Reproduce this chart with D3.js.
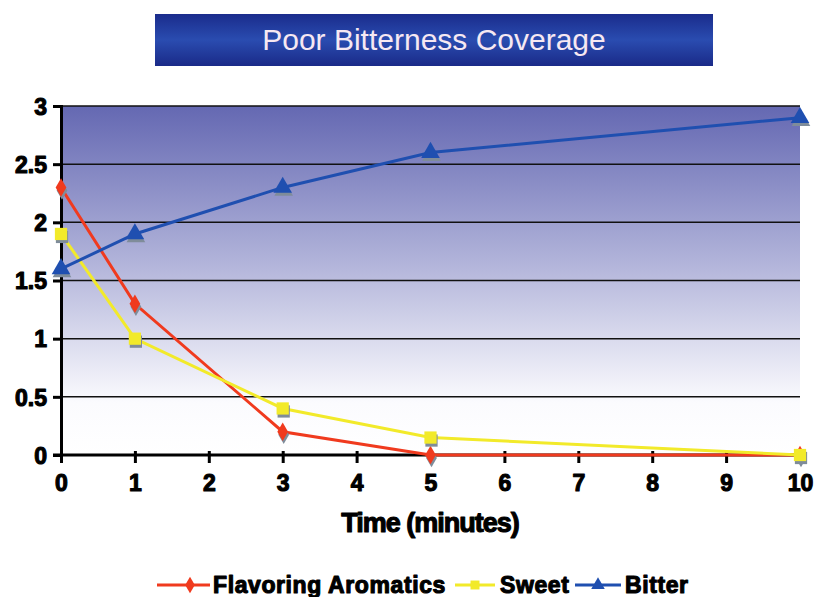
<!DOCTYPE html>
<html>
<head>
<meta charset="utf-8">
<script src="https://cdn.jsdelivr.net/npm/d3@7"></script>
<style>
body { margin: 0; background: #fff; }
svg text { font-family: "Liberation Sans", Arial, sans-serif; }
</style>
</head>
<body>
<svg id="chart" width="814" height="597"></svg>
<script>
const times = [0, 1, 3, 5, 10];
const flavoring = [2.3, 1.3, 0.2, 0, 0];
const sweet = [1.9, 1.0, 0.4, 0.15, 0];
const bitter = [1.6, 1.9, 2.3, 2.6, 2.9];
const xTicks = [0, 1, 2, 3, 4, 5, 6, 7, 8, 9, 10];
const yTicks = [0, 0.5, 1, 1.5, 2, 2.5, 3];

const series = [
	{name: 'Flavoring Aromatics', values: flavoring, color: '#f03a1e', symbol: d3.symbolDiamond, size: 100},
	{name: 'Sweet', values: sweet, color: '#f2ea2a', symbol: d3.symbolSquare, size: 150},
	{name: 'Bitter', values: bitter, color: '#1f4fb0', symbol: d3.symbolTriangle, size: 150}
];

const svg = d3.select('#chart');
const plotLeft = 61, plotRight = 800, plotTop = 106, plotBottom = 455;

const x = d3.scaleLinear().domain([0, 10]).range([plotLeft, plotRight]);
const y = d3.scaleLinear().domain([0, 3]).range([plotBottom, plotTop]);

const defs = svg.append('defs');
const bg = defs.append('linearGradient').attr('id', 'bg')
	.attr('x1', 0).attr('y1', 0).attr('x2', 0).attr('y2', 1);
bg.append('stop').attr('offset', '0%').attr('stop-color', '#6468b2');
bg.append('stop').attr('offset', '45%').attr('stop-color', '#b2b4da');
bg.append('stop').attr('offset', '85%').attr('stop-color', '#fbfbfe');
bg.append('stop').attr('offset', '100%').attr('stop-color', '#ffffff');

const tg = defs.append('linearGradient').attr('id', 'tg')
	.attr('x1', 0).attr('y1', 0).attr('x2', 0).attr('y2', 1);
tg.append('stop').attr('offset', '0%').attr('stop-color', '#1a2c8c');
tg.append('stop').attr('offset', '50%').attr('stop-color', '#2a4cb0');
tg.append('stop').attr('offset', '100%').attr('stop-color', '#1a2a88');

// heavy black text, close to the Arial Black look of the original
function heavy(sel, size) {
	return sel.attr('fill', '#000')
		.attr('stroke', '#000')
		.attr('stroke-width', 1.1)
		.attr('stroke-linejoin', 'round')
		.style('font-size', size + 'px')
		.style('font-weight', 'bold');
}

// title box
svg.append('rect')
	.attr('x', 155).attr('y', 14).attr('width', 558).attr('height', 52)
	.attr('fill', 'url(#tg)');
svg.append('text')
	.attr('x', 434).attr('y', 50)
	.attr('text-anchor', 'middle')
	.attr('fill', '#f6e8f2')
	.style('font-size', '30px')
	.text('Poor Bitterness Coverage');

// plot background
svg.append('rect')
	.attr('x', plotLeft).attr('y', plotTop)
	.attr('width', plotRight - plotLeft).attr('height', plotBottom - plotTop)
	.attr('fill', 'url(#bg)');

// gridlines
svg.append('g').selectAll('line')
	.data(yTicks.filter(d => d > 0))
	.enter().append('line')
	.attr('x1', plotLeft).attr('x2', plotRight)
	.attr('y1', d => y(d)).attr('y2', d => y(d))
	.attr('stroke', '#111').attr('stroke-width', 1.5);

// axes
const yAxis = svg.append('g')
	.attr('transform', 'translate(' + plotLeft + ',0)')
	.call(d3.axisLeft(y).tickValues(yTicks).tickSize(8).tickPadding(6).tickFormat(d3.format('')));
const xAxis = svg.append('g')
	.attr('transform', 'translate(0,' + plotBottom + ')')
	.call(d3.axisBottom(x).tickValues(xTicks).tickSize(8).tickPadding(12).tickFormat(d3.format('d')));

[yAxis, xAxis].forEach(ax => {
	ax.select('.domain').attr('stroke', '#000').attr('stroke-width', 3);
	ax.selectAll('.tick line').attr('stroke', '#000').attr('stroke-width', 3);
	ax.selectAll('.tick text').call(heavy, 23);
});
yAxis.selectAll('.tick text').attr('dy', '0.36em');
xAxis.select('.domain').attr('d', 'M' + (plotLeft - 8) + ',0H' + plotRight);
xAxis.selectAll('.tick line').attr('y1', -4);

// lines
const line = d3.line()
	.x((d, i) => x(times[i]))
	.y(d => y(d));

const lines = svg.append('g');
series.forEach(s => {
	lines.append('path')
		.datum(s.values)
		.attr('fill', 'none')
		.attr('stroke', s.color)
		.attr('stroke-width', 3)
		.attr('d', line);
});

// markers with a gray shadow
series.forEach(s => {
	const g = svg.append('g');
	const sym = d3.symbol().type(s.symbol).size(s.size);
	g.selectAll('.shadow')
		.data(s.values)
		.enter().append('path')
		.attr('class', 'shadow')
		.attr('transform', (d, i) => 'translate(' + (x(times[i]) + 1) + ',' + (y(d) + 3) + ')')
		.attr('d', sym)
		.attr('fill', '#7f8c9a');
	g.selectAll('.mark')
		.data(s.values)
		.enter().append('path')
		.attr('class', 'mark')
		.attr('transform', (d, i) => 'translate(' + x(times[i]) + ',' + y(d) + ')')
		.attr('d', sym)
		.attr('fill', s.color);
});

// axis title
svg.append('text')
	.attr('x', 430).attr('y', 532)
	.attr('text-anchor', 'middle')
	.call(heavy, 27)
	.style('letter-spacing', '-1px')
	.text('Time (minutes)');

// legend
const legendItems = [
	{s: series[0], x1: 157, x2: 210, mx: 190, tx: 213},
	{s: series[1], x1: 455, x2: 495, mx: 475, tx: 500},
	{s: series[2], x1: 575, x2: 621, mx: 598, tx: 625}
];
const legend = svg.append('g');
legendItems.forEach(item => {
	const ly = 585;
	legend.append('line')
		.attr('x1', item.x1).attr('x2', item.x2)
		.attr('y1', ly).attr('y2', ly)
		.attr('stroke', item.s.color).attr('stroke-width', 3);
	legend.append('path')
		.attr('transform', 'translate(' + item.mx + ',' + ly + ')')
		.attr('d', d3.symbol().type(item.s.symbol).size(80))
		.attr('fill', item.s.color);
	legend.append('text')
		.attr('x', item.tx).attr('y', ly + 8)
		.call(heavy, 23)
		.style('letter-spacing', '0.6px')
		.text(item.s.name);
});
</script>
</body>
</html>
